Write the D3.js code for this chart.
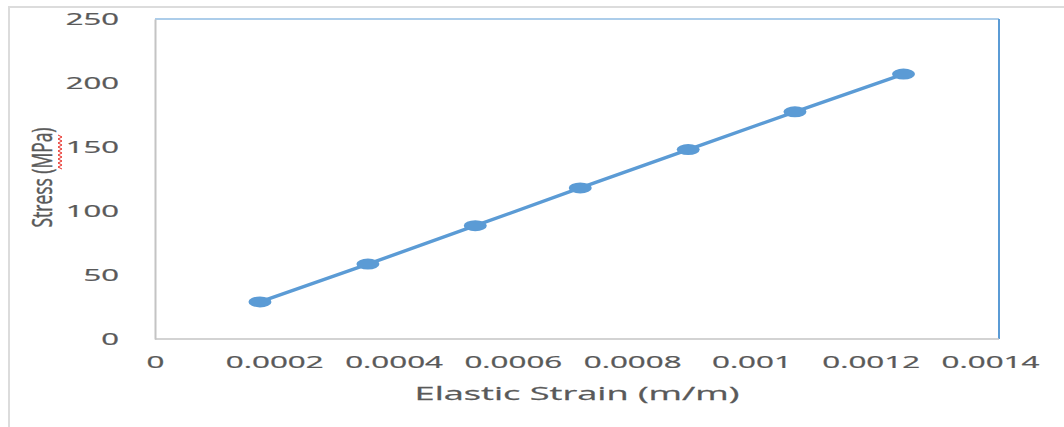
<!DOCTYPE html>
<html>
<head>
<meta charset="utf-8">
<script src="https://cdn.jsdelivr.net/npm/d3@7"></script>
<style>
  html, body { margin: 0; padding: 0; background: #ffffff; }
  svg { display: block; }
  text { font-family: "Open Sans", "Noto Sans", sans-serif; fill: #595959; stroke: #595959; stroke-width: 0.25px; }
</style>
</head>
<body>
<svg id="chart" width="1064" height="427"></svg>
<script>
// ---- data ----
const strain = [0.000176, 0.000357, 0.000537, 0.000713, 0.000894, 0.001073, 0.001255];
const stress = [29, 58.5, 88.5, 118, 148, 177.5, 207];
const xTicks = [0, 0.0002, 0.0004, 0.0006, 0.0008, 0.001, 0.0012, 0.0014];
const xTickLabels = ["0", "0.0002", "0.0004", "0.0006", "0.0008", "0.001", "0.0012", "0.0014"];
const yTicks = [0, 50, 100, 150, 200, 250];
const yTickLabels = ["0", "50", "100", "150", "200", "250"];
const xTitle = "Elastic Strain (m/m)";
const yTitle = "Stress (MPa)";

// ---- layout ----
const svg = d3.select("#chart");
const plotL = 155, plotR = 999, plotT = 19, plotB = 339;
const blue = "#5b9bd5";

const x = d3.scaleLinear().domain([0, 0.0014]).range([plotL, 990]);
const y = d3.scaleLinear().domain([0, 250]).range([plotB, plotT]);

// outer chart border (partially visible)
svg.append("line").attr("x1", 8).attr("x2", 1064).attr("y1", 7).attr("y2", 7)
  .attr("stroke", "#dcdcdc").attr("stroke-width", 2);
svg.append("line").attr("x1", 9).attr("x2", 9).attr("y1", 7).attr("y2", 427)
  .attr("stroke", "#dcdcdc").attr("stroke-width", 2);

// plot frame: top and right in blue
svg.append("line").attr("x1", plotL).attr("x2", plotR).attr("y1", plotT).attr("y2", plotT)
  .attr("stroke", blue).attr("stroke-width", 1.2);
svg.append("line").attr("x1", plotR).attr("x2", plotR).attr("y1", plotT).attr("y2", plotB)
  .attr("stroke", blue).attr("stroke-width", 2);

// fit text horizontally to a stretch factor via scale transform
function widen(sel, target) {
  sel.each(function() {
    const len = this.getComputedTextLength();
    const f = target(len, this);
    const el = d3.select(this);
    const x0 = +el.attr("x") || 0;
    el.attr("x", x0 / f).attr("transform", `scale(${f},1)`);
  });
}

// x axis
const xAxis = d3.axisBottom(x).tickValues(xTicks)
  .tickFormat((d, i) => xTickLabels[i]).tickSize(0).tickSizeOuter(0);
const gx = svg.append("g").attr("transform", `translate(0,${plotB})`).call(xAxis);
gx.attr("font-family", null).attr("font-size", null);
gx.select(".domain").attr("stroke", "#c4c4c4").attr("stroke-width", 1.6)
  .attr("d", `M${plotL},0H${plotR}`);
gx.selectAll("text").attr("y", 29).attr("dy", null)
  .style("font-size", "16.5px").attr("fill", "#595959");
widen(gx.selectAll("text"), () => 1.9);

// y axis
const yAxis = d3.axisLeft(y).tickValues(yTicks)
  .tickFormat((d, i) => yTickLabels[i]).tickSize(0).tickSizeOuter(0);
const gy = svg.append("g").attr("transform", `translate(${plotL},0)`).call(yAxis);
gy.attr("font-family", null).attr("font-size", null);
gy.select(".domain").attr("stroke", "#c4c4c4").attr("stroke-width", 2);
gy.selectAll("text").attr("x", -36).attr("dy", "0.34em")
  .style("font-size", "16.5px").attr("fill", "#595959");
widen(gy.selectAll("text"), () => 1.88);

// series line
const pts = strain.map((s, i) => [s, stress[i]]);
svg.append("path").datum(pts)
  .attr("fill", "none").attr("stroke", blue).attr("stroke-width", 3.4)
  .attr("stroke-linejoin", "round")
  .attr("d", d3.line().x(d => x(d[0])).y(d => y(d[1])));

// markers
svg.append("g").selectAll("ellipse").data(pts).join("ellipse")
  .attr("cx", d => x(d[0])).attr("cy", d => y(d[1]))
  .attr("rx", 11.5).attr("ry", 5.5).attr("fill", blue);

// x title
const xt = svg.append("text").attr("x", (plotL + plotR) / 2).attr("y", 400)
  .attr("text-anchor", "middle").style("font-size", "19px").text(xTitle);
widen(xt, len => 325 / len);

// y title (rotated, stretched horizontally)
const yt = svg.append("text")
  .attr("transform", `translate(52,177.5) scale(1.9,1) rotate(-90)`)
  .attr("text-anchor", "middle").style("font-size", "14.5px").text(yTitle);
yt.attr("textLength", 100).attr("lengthAdjust", "spacingAndGlyphs");

// spell-check squiggle under "MPa"
const zz = [];
for (let yy = 135, k = 0; yy <= 170; yy += 2, k++) zz.push([k % 2 ? 62 : 58, yy]);
svg.append("path").attr("d", d3.line()(zz))
  .attr("fill", "none").attr("stroke", "#e8322b").attr("stroke-width", 1);
</script>
</body>
</html>
